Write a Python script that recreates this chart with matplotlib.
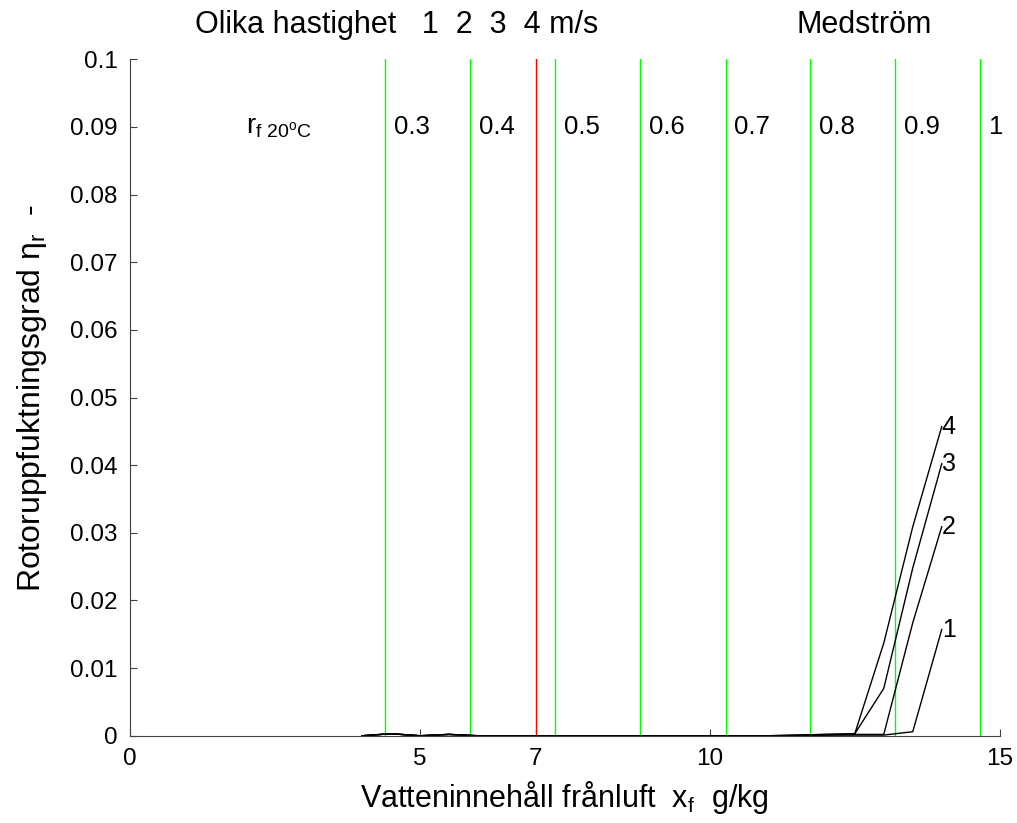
import matplotlib
matplotlib.use('Agg')
import matplotlib.pyplot as plt

plt.rcParams['font.family'] = ['Liberation Sans', 'DejaVu Sans']
plt.rcParams['mathtext.fontset'] = 'custom'
plt.rcParams['mathtext.rm'] = 'Liberation Sans'
plt.rcParams['mathtext.it'] = 'Liberation Sans'

# water content of exhaust air, g/kg
x = [4.0, 4.5, 5.0, 5.5, 6.0, 6.5, 7.0, 7.5, 8.0, 8.5, 9.0, 9.5, 10.0,
     10.5, 11.0, 11.5, 12.0, 12.5, 13.0, 13.5, 14.0]

# rotor humidification efficiency for speeds 1..4 m/s
eta_1 = [0, 0.0003, 0, 0.0002, 0, 0, 0, 0, 0, 0, 0, 0, 0,
         0, 0, 0, 0.0001, 0.0001, 0.0001, 0.0006, 0.0157]
eta_2 = [0, 0.0003, 0, 0.0002, 0, 0, 0, 0, 0, 0, 0, 0, 0,
         0, 0, 0, 0.0001, 0.0002, 0.0002, 0.0167, 0.0309]
eta_3 = [0, 0.0003, 0, 0.0002, 0, 0, 0, 0, 0, 0, 0, 0, 0,
         0, 0, 0.0001, 0.0002, 0.0003, 0.0070, 0.0248, 0.0402]
eta_4 = [0, 0.0003, 0, 0.0002, 0, 0, 0, 0, 0, 0, 0, 0, 0,
         0, 0, 0.0001, 0.0002, 0.0003, 0.0137, 0.0309, 0.0457]
curves = [eta_1, eta_2, eta_3, eta_4]
curve_names = ['1', '2', '3', '4']

# relative humidity lines at 20 C
rh_labels = ['0.3', '0.4', '0.5', '0.6', '0.7', '0.8', '0.9', '1']
rh_x = [4.40, 5.87, 7.33, 8.80, 10.27, 11.73, 13.20, 14.66]
design_x = 7.0

fig = plt.figure(figsize=(10.17, 8.23), dpi=100)
ax = fig.add_axes([0.128, 0.106, 0.855, 0.822])

for xv, lab in zip(rh_x, rh_labels):
    ax.plot([xv, xv], [0, 0.1], color='#00ff00', lw=1)
    ax.text(xv + 0.15, 0.09, lab, fontsize=18.5, va='center', ha='left')
ax.plot([design_x, design_x], [0, 0.1], color='red', lw=1)

for yv, name in zip(curves, curve_names):
    ax.plot(x, yv, color='black', lw=1)
    ax.text(x[-1], yv[-1], name, fontsize=18, va='center', ha='left')

ax.text(2.0, 0.09, r'r$_{\mathrm{f\ 20^oC}}$', fontsize=20, va='center', ha='left')
ax.text(1.12, 0.1051, 'Olika hastighet   1  2  3  4 m/s', fontsize=22,
        va='center', ha='left', clip_on=False)
ax.text(11.5, 0.1051, 'Medström', fontsize=22, va='center', ha='left',
        clip_on=False)

ax.set_xlim(0, 15)
ax.set_ylim(0, 0.1)
ax.set_xticks([0, 5, 7, 10, 15])
ax.set_xticklabels(['0', '5', '7', '10', '15'])
ax.set_yticks([i / 100 for i in range(11)])
ax.set_yticklabels(['0', '0.01', '0.02', '0.03', '0.04', '0.05', '0.06',
                    '0.07', '0.08', '0.09', '0.1'])
ax.tick_params(direction='in', length=5, labelsize=17.5, colors='#404040',
               labelcolor='black', pad=9)
for s in ['top', 'right']:
    ax.spines[s].set_visible(False)
for s in ['left', 'bottom']:
    ax.spines[s].set_color('#404040')

ax.set_xlabel(r'Vatteninnehåll frånluft  x$_\mathrm{f}$  g/kg', fontsize=22, labelpad=6)
ax.set_ylabel(r'Rotoruppfuktningsgrad $\mathrm{\eta}_\mathrm{r}$  -', fontsize=23, labelpad=15)

fig.savefig('out.png', dpi=100)
